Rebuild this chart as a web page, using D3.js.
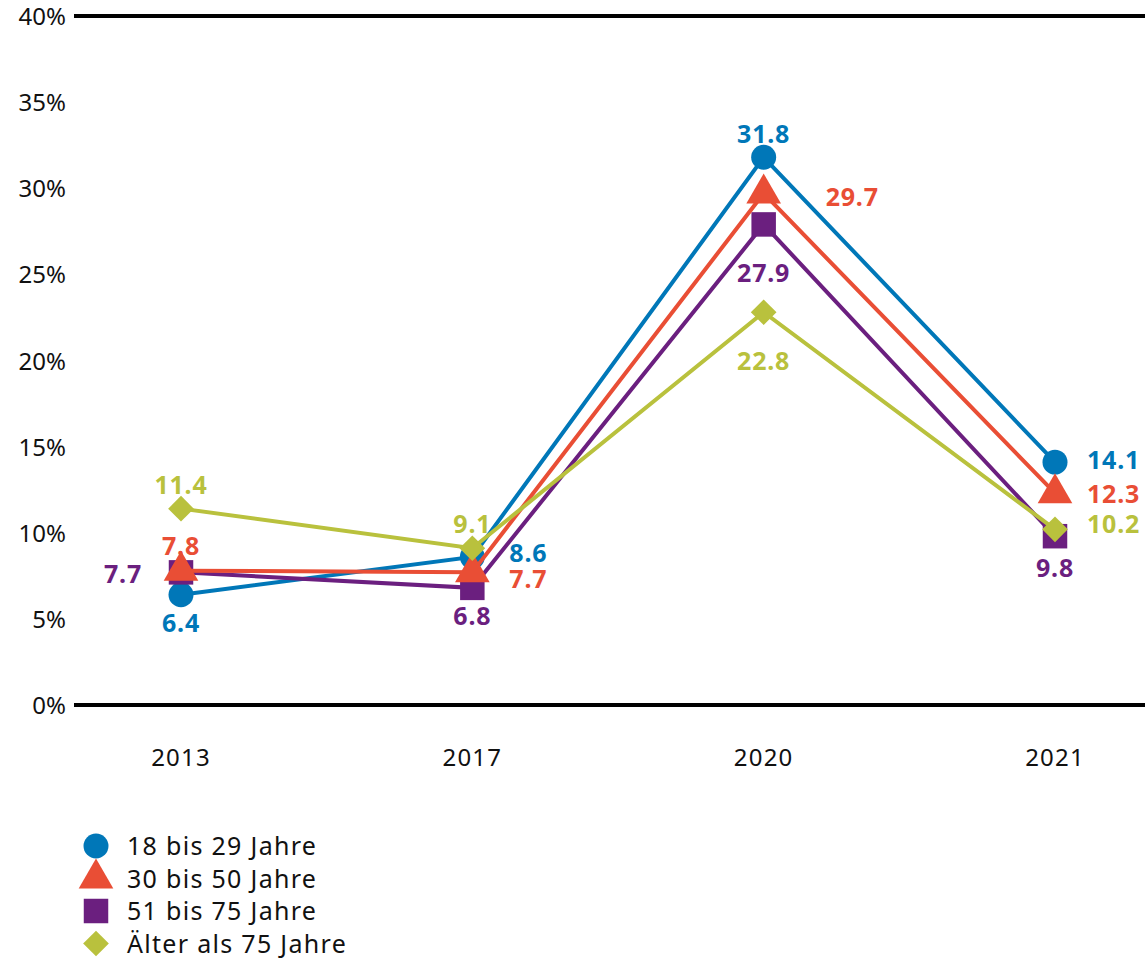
<!DOCTYPE html>
<html lang="de">
<head>
<meta charset="utf-8">
<title>Altersgruppen</title>
<script src="https://cdn.jsdelivr.net/npm/d3@7"></script>
<style>
    body { margin: 0; background: #fff; }
    text { font-family: "Noto Sans", sans-serif; }
    .tick-label { font-size: 24px; fill: #111; }
    .xlab { letter-spacing: 1.2px; }
    .value { font-size: 25px; font-weight: bold; letter-spacing: 0.8px; }
    .legend text { font-size: 25px; fill: #111; letter-spacing: 1.3px; }
    .line { fill: none; stroke-width: 4; }
</style>
</head>
<body>
<div id="chart"></div>
<script>
// data
const years = ["2013", "2017", "2020", "2021"];
const yTicks = [0, 5, 10, 15, 20, 25, 30, 35, 40];
const seriesNames = ["18 bis 29 Jahre", "30 bis 50 Jahre", "51 bis 75 Jahre", "Älter als 75 Jahre"];
const age18to29 = [6.4, 8.6, 31.8, 14.1];
const age30to50 = [7.8, 7.7, 29.7, 12.3];
const age51to75 = [7.7, 6.8, 27.9, 9.8];
const age75plus = [11.4, 9.1, 22.8, 10.2];

const WIDTH = 1145, HEIGHT = 958;
const COLOURS = ["#0077b8", "#e94e35", "#6b1f7f", "#b9c13d"];
const SHAPES = ["circle", "triangle", "square", "diamond"];

// label placement per point: [dx, dy, anchor]
const LABELPOS = [
    [[0, 37, "middle"], [37, 5, "start"], [0, -14, "middle"], [32, 7, "start"]],
    [[0, -16, "middle"], [37, 16, "start"], [62, 13, "start"], [32, 10, "start"]],
    [[-58, 11, "middle"], [0, 37, "middle"], [0, 58, "middle"], [0, 41, "middle"]],
    [[0, -15, "middle"], [0, -15, "middle"], [0, 58, "middle"], [32, 4, "start"]]
];

const series = [age18to29, age30to50, age51to75, age75plus].map((v, i) => ({
    name: seriesNames[i], values: v, colour: COLOURS[i], shape: SHAPES[i], labels: LABELPOS[i]
}));

let svg = d3.select("#chart").append("svg")
    .attr("width", WIDTH)
    .attr("height", HEIGHT);

let xScale = d3.scalePoint().domain(years).range([181, 1055]);
let yScale = d3.scaleLinear().domain([0, 40]).range([705, 16]);

// y labels
svg.selectAll(".ylab").data(yTicks).enter().append("text")
    .attr("class", "tick-label")
    .attr("x", 66)
    .attr("y", d => yScale(d) + 9)
    .attr("text-anchor", "end")
    .text(d => d + "%");

// baseline and top line
svg.selectAll(".hline").data([0, 40]).enter().append("line")
    .attr("x1", 74).attr("x2", WIDTH)
    .attr("y1", d => yScale(d)).attr("y2", d => yScale(d))
    .attr("stroke", "#000").attr("stroke-width", 4);

// x labels
svg.selectAll(".xlab").data(years).enter().append("text")
    .attr("class", "tick-label xlab")
    .attr("x", d => xScale(d))
    .attr("y", 766)
    .attr("text-anchor", "middle")
    .text(d => d);

function marker(shape) {
    if (shape == "circle") return d3.symbol(d3.symbolCircle, 490)();
    if (shape == "triangle") return d3.symbol(d3.symbolTriangle, 520)();
    if (shape == "square") return d3.symbol(d3.symbolSquare, 600)();
    return d3.symbol(d3.symbolSquare, 330)();
}

let lineGen = d3.line()
    .x((d, i) => xScale(years[i]))
    .y(d => yScale(d));

// draw order: blue, purple, red, green
for (let idx of [0, 2, 1, 3]) {
    let s = series[idx];
    svg.append("path")
        .datum(s.values)
        .attr("class", "line")
        .attr("d", lineGen)
        .attr("stroke", s.colour);

    svg.selectAll(".m" + idx).data(s.values).enter().append("path")
        .attr("d", marker(s.shape))
        .attr("fill", s.colour)
        .attr("transform", (d, i) => "translate(" + xScale(years[i]) + "," + yScale(d) + ")" +
            (s.shape == "diamond" ? " rotate(45)" : ""));
}

// value labels
series.forEach(s => {
    svg.selectAll(null).data(s.values).enter().append("text")
        .attr("class", "value")
        .attr("fill", s.colour)
        .attr("x", (d, i) => xScale(years[i]) + s.labels[i][0])
        .attr("y", (d, i) => yScale(d) + s.labels[i][1])
        .attr("text-anchor", (d, i) => s.labels[i][2])
        .text(d => d.toFixed(1));
});

// legend
let legend = svg.selectAll(".legend").data(series).enter().append("g")
    .attr("class", "legend")
    .attr("transform", (d, i) => "translate(96," + (846 + i * 32.5) + ")");

legend.append("path")
    .attr("d", d => marker(d.shape))
    .attr("fill", d => d.colour)
    .attr("transform", d => d.shape == "diamond" ? "rotate(45)" : "");

legend.append("text")
    .attr("x", 31)
    .attr("y", 9)
    .text(d => d.name);
</script>
</body>
</html>
